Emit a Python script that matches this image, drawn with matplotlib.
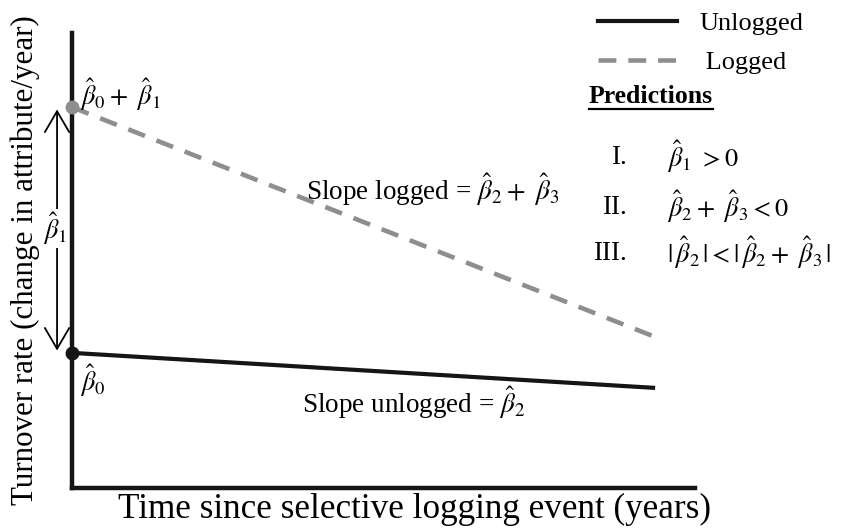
import matplotlib
matplotlib.use("Agg")
import matplotlib.pyplot as plt
from matplotlib.lines import Line2D

plt.rcParams["font.family"] = ["Liberation Serif", "DejaVu Serif"]
plt.rcParams["mathtext.fontset"] = "stix"

# conceptual model: start and end of each trend line
time_pts = [0, 9.36]
unlogged = [2.97, 2.20]
logged = [8.37, 3.32]

series_names = ["Unlogged", " Logged"]
x_label = "Time since selective logging event (years)"
y_label = "Turnover rate (change in attribute/year)"
pred_nums = ["I.", "II.", "III."]
pred_text = [r"$\hat{\beta}_1\ > 0$",
             r"$\hat{\beta}_2 + \ \hat{\beta}_3 < 0$",
             r"$|\,\hat{\beta}_2\,| < |\,\hat{\beta}_2 + \ \hat{\beta}_3\,|$"]

W, H = 847, 528
fig = plt.figure(figsize=(W / 100, H / 100), dpi=100)
ax = fig.add_axes([72 / W, 40 / H, 623 / W, 455 / H])
ax.set_xlim(0, 10)
ax.set_ylim(0, 10)
ax.set_xticks([])
ax.set_yticks([])
ax.patch.set_visible(False)
for s in ["top", "right"]:
    ax.spines[s].set_visible(False)
for s in ["left", "bottom"]:
    ax.spines[s].set_linewidth(3.2)
    ax.spines[s].set_color("#151515")

black = "#151515"
grey = "#8e8e8e"

ax.plot(time_pts, unlogged, color=black, lw=3, solid_capstyle="butt", zorder=3)
ax.plot(time_pts, logged, color=grey, lw=3.3, ls=(0, (3.9, 2.7)), zorder=3)
ax.plot(time_pts[0], unlogged[0], "o", color=black, ms=9, clip_on=False, zorder=5)
ax.plot(time_pts[0], logged[0], "o", color=grey, ms=9, clip_on=False, zorder=5)

# intercept labels
ax.text(0.13, 8.64, r"$\hat{\beta}_0 + \ \hat{\beta}_1$", fontsize=19, va="center")
ax.text(0.13, 2.37, r"$\hat{\beta}_0$", fontsize=19, va="center")

# double arrow for beta1
ax.annotate("", xy=(-0.24, logged[0] - 0.05), xytext=(-0.24, unlogged[0] + 0.05),
            arrowprops=dict(arrowstyle="<->,head_length=0.6,head_width=0.35",
                            lw=1.3, color="black", mutation_scale=25,
                            shrinkA=0, shrinkB=0),
            annotation_clip=False)
ax.text(-0.27, 5.7, r"$\hat{\beta}_1$", fontsize=19, ha="center", va="center",
        bbox=dict(facecolor="white", edgecolor="none", pad=1), clip_on=False)

# slope labels
ax.text(3.76, 6.55, r"Slope logged = $\hat{\beta}_2 + \ \hat{\beta}_3$", fontsize=19.5, va="center")
ax.text(3.69, 1.87, r"Slope unlogged = $\hat{\beta}_2$", fontsize=19.5, va="center")

# axis titles
fig.text(25 / W, 0.508, y_label, rotation=90, ha="center", va="center", fontsize=22.3)
fig.text(414 / W, 1 - 509 / H, x_label, ha="center", va="center", fontsize=25.3)

# legend
handles = [Line2D([], [], color=black, lw=3),
           Line2D([], [], color=grey, lw=3.3, ls=(0, (3.9, 2.6)))]
fig.legend(handles, series_names, loc="upper left", bbox_to_anchor=(582 / W, 1.008),
           frameon=False, fontsize=19, handlelength=3.0, handletextpad=0.85,
           labelspacing=0.6, borderaxespad=0.2)

# predictions box
pt = fig.text(589 / W, 1 - 96 / H, "Predictions", fontsize=18.5, fontweight="bold",
              ha="left", va="center")
pred_y = [157, 207, 253]
for num, txt, y in zip(pred_nums, pred_text, pred_y):
    fig.text(627 / W, 1 - y / H, num, fontsize=19.5, ha="right", va="center")
    fig.text(667 / W, 1 - y / H, txt, fontsize=19, ha="left", va="center")

fig.canvas.draw()
bb = pt.get_window_extent().transformed(fig.transFigure.inverted())
fig.add_artist(Line2D([bb.x0, bb.x1], [bb.y0 - 0.003, bb.y0 - 0.003],
                      color="black", lw=1.6, transform=fig.transFigure))

fig.savefig("out.png", dpi=100)
